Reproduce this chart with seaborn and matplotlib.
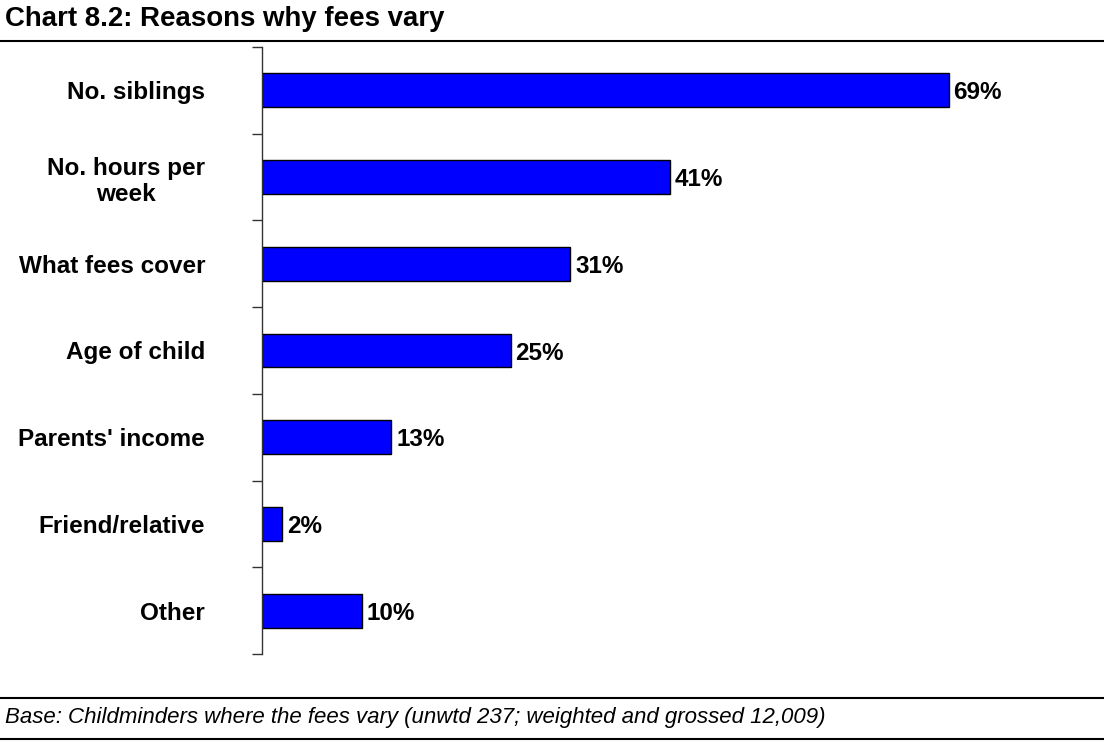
import matplotlib
matplotlib.use("Agg")
import matplotlib.pyplot as plt
import seaborn as sns
import pandas as pd
import numpy as np

categories = ["No. siblings", "No. hours per\nweek", "What fees cover", "Age of child",
              "Parents' income", "Friend/relative", "Other"]
values = [69, 41, 31, 25, 13, 2, 10]
value_labels = ["69%", "41%", "31%", "25%", "13%", "2%", "10%"]
title = "Chart 8.2: Reasons why fees vary"
footer = "Base: Childminders where the fees vary (unwtd 237; weighted and grossed 12,009)"

sns.set_style("white")
plt.rcParams['font.family'] = ['Liberation Sans', 'DejaVu Sans']
plt.rcParams['text.color'] = 'black'
plt.rcParams['ytick.color'] = 'black'

df = pd.DataFrame({"cat": categories, "val": values})

fig = plt.figure(figsize=(11.04, 7.42), dpi=100)
ax = fig.add_axes([262/1104, 88/742, (1058-262)/1104, (695-88)/742])
sns.barplot(data=df, y="cat", x="val", orient="h", color="#0000FF", saturation=1,
            edgecolor="black", linewidth=1, width=0.39, ax=ax)

ax.set_xlim(0, 80)
ax.set_ylim(len(categories) - 0.5, -0.5)
ax.set_xlabel("")
ax.set_ylabel("")
ax.set_xticks([])
for s in ["top", "right", "bottom"]:
    ax.spines[s].set_visible(False)
ax.spines["left"].set_color("#333333")
ax.spines["left"].set_linewidth(1)

ax.set_yticks(range(len(categories)))
ax.set_yticklabels(categories, fontsize=17.5, fontweight="bold", multialignment="center",
                   color="black", linespacing=1.2)
ax.tick_params(axis="y", which="major", length=0, pad=41)
ax.set_yticks(np.arange(-0.5, len(categories), 1.0), minor=True)
ax.tick_params(axis="y", which="minor", length=7, width=1, color="#333333", left=True)

for i, (v, lab) in enumerate(zip(values, value_labels)):
    ax.annotate(lab, xy=(v, i), xytext=(3.5, 0), textcoords="offset points",
                va="center_baseline", ha="left", fontsize=17.5, fontweight="bold", color="black")

fig.text(5/1104, 1 - 19/742, title, fontsize=19.9, fontweight="bold", va="center", ha="left",
         color="black")
fig.add_artist(plt.Line2D([0, 1], [1 - 41/742, 1 - 41/742], color="black", linewidth=1.5))
fig.add_artist(plt.Line2D([0, 1], [1 - 698/742, 1 - 698/742], color="black", linewidth=1.5))
fig.add_artist(plt.Line2D([0, 1], [1 - 739/742, 1 - 739/742], color="black", linewidth=1.5))
fig.text(5/1104, 1 - 718/742, footer, fontsize=16, fontstyle="italic", va="center", ha="left",
         color="black")

fig.savefig("out.png", dpi=100)
